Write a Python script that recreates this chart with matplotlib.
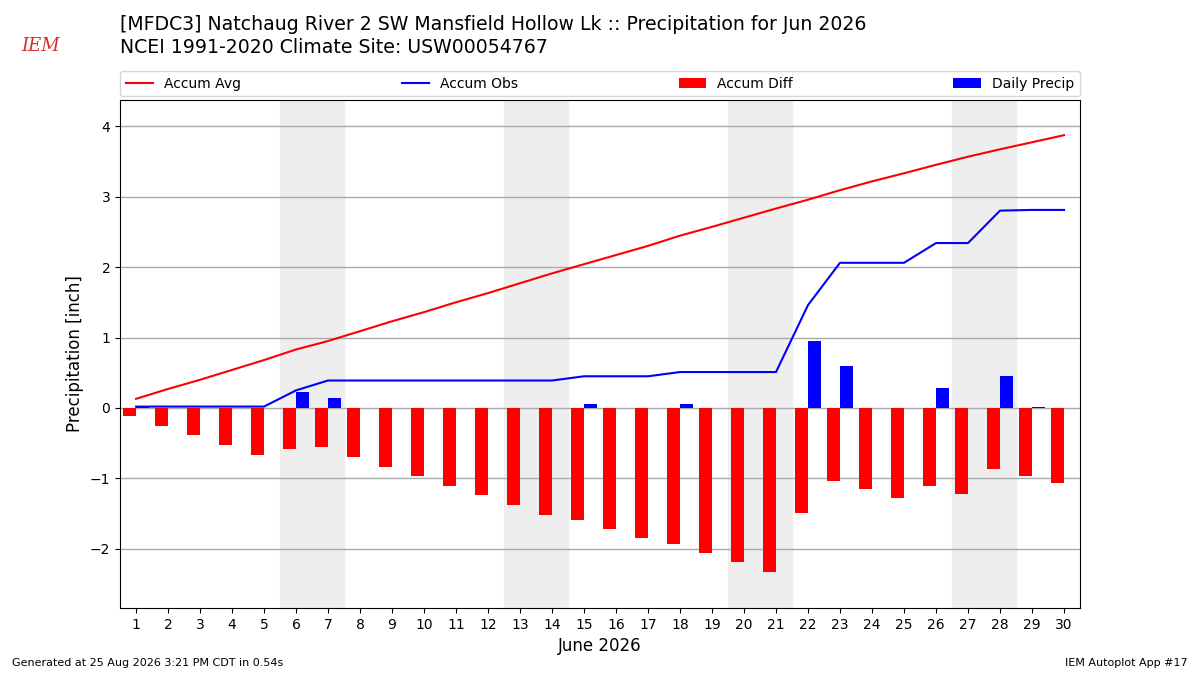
import matplotlib
matplotlib.use('Agg')
import matplotlib.pyplot as plt
import numpy as np

# Data (inches)
days = list(range(1, 31))
daily_precip = [0.02, 0, 0, 0, 0, 0.23, 0.14, 0, 0, 0,
                0, 0, 0, 0, 0.06, 0, 0, 0.06, 0, 0,
                0, 0.95, 0.60, 0, 0, 0.28, 0, 0.46, 0.01, 0]
accum_avg = [0.13, 0.27, 0.40, 0.54, 0.68, 0.83, 0.95, 1.09, 1.23, 1.36,
             1.50, 1.63, 1.77, 1.91, 2.04, 2.17, 2.30, 2.445, 2.57, 2.70,
             2.83, 2.955, 3.09, 3.215, 3.33, 3.45, 3.565, 3.67, 3.77, 3.87]
weekends = [(6, 7), (13, 14), (20, 21), (27, 28)]

accum_obs = np.cumsum(daily_precip)
accum_diff = accum_obs - np.array(accum_avg)

fig = plt.figure(figsize=(12, 6.75), dpi=100)
ax = fig.add_axes([0.1, 0.0993, 0.8, 0.7526])

for start, end in weekends:
    ax.axvspan(start - 0.5, end + 0.5, color='#eeeeee', zorder=0)

ax.plot(days, accum_avg, color='r', label='Accum Avg', zorder=3)
ax.plot(days, accum_obs, color='b', label='Accum Obs', zorder=3)
ax.bar(days, accum_diff, width=-0.4, align='edge', color='r',
       label='Accum Diff', zorder=2)
ax.bar(days, daily_precip, width=0.4, align='edge', color='b',
       label='Daily Precip', zorder=2)

ax.set_xlim(0.5, 30.5)
ax.set_ylim(-2.837, 4.37)
ax.set_xticks(days)
ax.grid(True, axis='y', color='#aaaaaa', linewidth=1)
ax.set_axisbelow(True)
ax.tick_params(labelsize=10)
ax.set_xlabel('June 2026', fontsize=12)
ax.set_ylabel('Precipitation [inch]', fontsize=12)

ax.legend(loc='lower left', bbox_to_anchor=(0, 1.007, 1, 0.05), ncol=4,
          mode='expand', borderaxespad=0, fontsize=10)

fig.text(0.1, 0.963, '[MFDC3] Natchaug River 2 SW Mansfield Hollow Lk :: '
         'Precipitation for Jun 2026', fontsize=13.6, va='center')
fig.text(0.1, 0.93, 'NCEI 1991-2020 Climate Site: USW00054767',
         fontsize=13.6, va='center')

# stand-in for the IEM logo
fig.text(0.018, 0.925, 'IEM', color='#d03030', fontsize=13,
         family='serif', style='italic')

fig.text(0.01, 0.014, 'Generated at 25 Aug 2026 3:21 PM CDT in 0.54s',
         fontsize=8)
fig.text(0.99, 0.014, 'IEM Autoplot App #17', fontsize=8, ha='right')

fig.savefig('out.png', dpi=100)
